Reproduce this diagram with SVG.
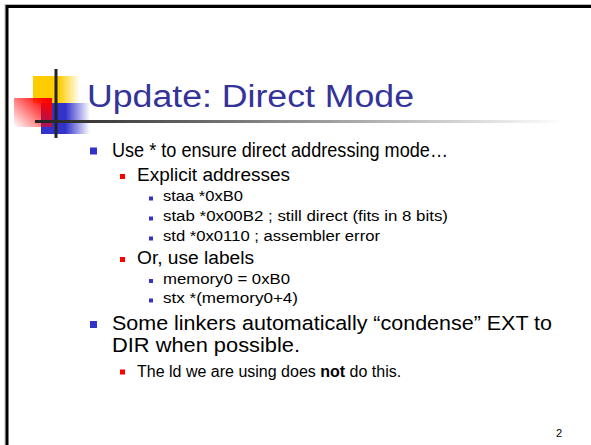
<svg xmlns="http://www.w3.org/2000/svg" width="591" height="445" viewBox="0 0 591 445">
<defs>
<linearGradient id="gy" x1="0" y1="0" x2="1" y2="0"><stop offset="0" stop-color="#FFCC00"/><stop offset="0.55" stop-color="#FFCC00"/><stop offset="1" stop-color="#FFCC00" stop-opacity="0"/></linearGradient>
<linearGradient id="gb" x1="0" y1="0" x2="1" y2="0"><stop offset="0" stop-color="#3333CC"/><stop offset="0.5" stop-color="#3333CC"/><stop offset="1" stop-color="#3333CC" stop-opacity="0"/></linearGradient>
<linearGradient id="gr" x1="0" y1="1" x2="1" y2="0.2"><stop offset="0" stop-color="#FF0000" stop-opacity="0"/><stop offset="0.85" stop-color="#FF0000" stop-opacity="0.9"/><stop offset="1" stop-color="#FF0000"/></linearGradient>
<linearGradient id="gl" x1="0" y1="0" x2="1" y2="0"><stop offset="0" stop-color="#222222"/><stop offset="0.45" stop-color="#888888"/><stop offset="1" stop-color="#FFFFFF"/></linearGradient>
</defs>
<style>
.t{font-family:"Liberation Sans",Arial,sans-serif;fill:#000}
.l1{font-size:20.5px}
.l2{font-size:18px}
.l3{font-size:14px}
.b1{fill:#3333CC}
.b2{fill:#FF0000}
</style>
<rect width="591" height="445" fill="#fff"/>
<g id="frame">
<rect x="5" y="4.5" width="600" height="460" fill="none" stroke="#BBBBBB" stroke-width="1"/>
<rect x="7" y="6.5" width="600" height="460" fill="none" stroke="#000" stroke-width="3"/>
</g>
<g id="logo">
<rect x="33" y="76" width="47" height="27" fill="url(#gy)"/>
<rect x="41" y="103" width="49" height="31" fill="url(#gb)"/>
<rect x="14" y="98" width="38" height="29" fill="url(#gr)"/>
<rect x="54.5" y="69" width="3" height="69" fill="#222"/>
<rect x="35" y="120" width="530" height="3" fill="url(#gl)"/>
</g>
<g id="title">
<text x="87" y="107" font-family="'Liberation Sans',Arial,sans-serif" font-size="31" fill="#333399" textLength="327" lengthAdjust="spacingAndGlyphs">Update: Direct Mode</text>
</g>
<g id="bullets">
<rect class="b1" x="90" y="147.5" width="7" height="7"/>
<text class="t l1" x="112" y="157" textLength="336" lengthAdjust="spacingAndGlyphs">Use * to ensure direct addressing mode…</text>
<rect class="b2" x="120" y="174" width="5" height="5"/>
<text class="t l2" x="137" y="181" textLength="153" lengthAdjust="spacingAndGlyphs">Explicit addresses</text>
<rect class="b1" x="149" y="196.5" width="4" height="4"/>
<text class="t l3" x="163" y="201" textLength="80" lengthAdjust="spacingAndGlyphs">staa *0xB0</text>
<rect class="b1" x="149" y="216.5" width="4" height="4"/>
<text class="t l3" x="163" y="221" textLength="285" lengthAdjust="spacingAndGlyphs">stab *0x00B2 ; still direct (fits in 8 bits)</text>
<rect class="b1" x="149" y="236.5" width="4" height="4"/>
<text class="t l3" x="163" y="241" textLength="217" lengthAdjust="spacingAndGlyphs">std *0x0110 ; assembler error</text>
<rect class="b2" x="120" y="257" width="5" height="5"/>
<text class="t l2" x="137" y="264" textLength="117" lengthAdjust="spacingAndGlyphs">Or, use labels</text>
<rect class="b1" x="149" y="279" width="4" height="4"/>
<text class="t l3" x="163" y="283.5" textLength="127" lengthAdjust="spacingAndGlyphs">memory0 = 0xB0</text>
<rect class="b1" x="149" y="298.5" width="4" height="4"/>
<text class="t l3" x="163" y="303" textLength="135" lengthAdjust="spacingAndGlyphs">stx *(memory0+4)</text>
<rect class="b1" x="90" y="321" width="7" height="7"/>
<text class="t l1" x="112" y="330" textLength="440" lengthAdjust="spacingAndGlyphs">Some linkers automatically “condense” EXT to</text>
<text class="t l1" x="112" y="352" textLength="188" lengthAdjust="spacingAndGlyphs">DIR when possible.</text>
<rect class="b2" x="120" y="369.5" width="5" height="5"/>
<text class="t" x="137" y="376.5" font-size="16">The ld we are using does <tspan font-weight="bold">not</tspan> do this.</text>
</g>
<g id="page">
<text x="556" y="437" font-family="'Liberation Sans',Arial,sans-serif" font-size="11" fill="#000">2</text>
</g>
</svg>
